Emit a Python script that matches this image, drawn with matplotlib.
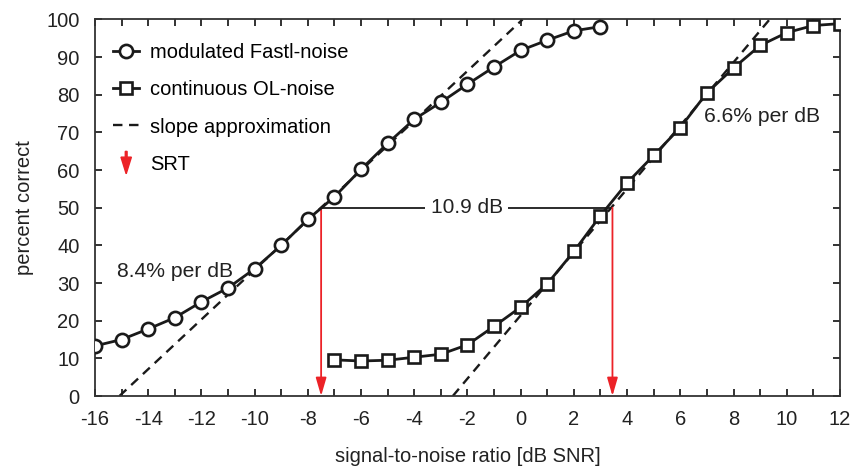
import numpy as np
import matplotlib.pyplot as plt
from matplotlib.patches import FancyArrow
from matplotlib.lines import Line2D
from matplotlib.legend_handler import HandlerPatch

plt.rcParams['font.family'] = ['Liberation Sans', 'DejaVu Sans']
plt.rcParams['font.size'] = 14.5
plt.rcParams['axes.unicode_minus'] = False

# modulated Fastl-noise
snr_mod = np.arange(-16, 4)
pc_mod = [13.3, 15.0, 17.8, 20.8, 25.0, 28.7, 33.8, 40.0, 46.9, 52.9,
          60.2, 67.1, 73.5, 78.0, 82.8, 87.4, 91.8, 94.5, 97.0, 98.1]

# continuous OL-noise
snr_cont = np.arange(-7, 13)
pc_cont = [9.6, 9.3, 9.5, 10.3, 11.1, 13.6, 18.5, 23.6, 29.8, 38.4,
           47.9, 56.6, 63.9, 71.3, 80.5, 87.1, 93.1, 96.5, 98.4, 98.9]

# slope approximations: (zero crossing, slope in % per dB)
slope_mod = (-15.08, 6.6)
slope_cont = (-2.55, 8.4)
srt_mod = -7.5
srt_cont = 3.45
red = '#ec2227'
ink = '#1a1a1a'

fig = plt.figure(figsize=(8.51, 4.72), dpi=100)
ax = fig.add_axes([0.1116, 0.161, 0.8754, 0.7977])

for x0, s in [slope_mod, slope_cont]:
    xs = np.array([x0, x0 + 100 / s])
    ax.plot(xs, s * (xs - x0), '--', color=ink, lw=1.7, dashes=(4, 2.8), zorder=2)

ax.plot(snr_mod, pc_mod, '-o', color=ink, lw=2, ms=9.5, mfc='white', mew=1.9,
        label='modulated Fastl-noise', zorder=4)
ax.plot(snr_cont, pc_cont, '-s', color=ink, lw=2, ms=8, mfc='white', mew=1.9,
        label='continuous OL-noise', zorder=4)

# 10.9 dB bar and SRT arrows
ax.plot([srt_mod, srt_cont], [50, 50], color=ink, lw=1.3, zorder=3)
ax.text((srt_mod + srt_cont) / 2, 50, '10.9 dB', ha='center', va='center',
        fontsize=15, color='#222222', bbox=dict(facecolor='white', edgecolor='none', pad=4), zorder=3)
for x in [srt_mod, srt_cont]:
    ax.annotate('', xy=(x, 0), xytext=(x, 50),
                arrowprops=dict(arrowstyle='-|>,head_length=1.1,head_width=0.32', color=red,
                                lw=1.3, mutation_scale=10, shrinkA=0, shrinkB=0), zorder=3)

ax.text(-15.17, 33.0, '8.4% per dB', ha='left', va='center', fontsize=15.2, color='#222222')
ax.text(6.9, 74.3, '6.6% per dB', ha='left', va='center', fontsize=15.2, color='#222222')

ax.set_xlim(-16, 12)
ax.set_ylim(0, 100)
ax.set_xticks(np.arange(-16, 13, 2))
ax.set_xticks(np.arange(-16, 13, 1), minor=True)
ax.set_yticks(np.arange(0, 101, 10))
ax.tick_params(which='both', direction='in', top=True, right=True, length=5, width=1.3,
               labelsize=14.5, colors='#222222')
ax.tick_params(axis='x', pad=10)
ax.tick_params(axis='y', pad=11)
for sp in ax.spines.values():
    sp.set_linewidth(1.3)
    sp.set_color('#333333')
ax.set_xlabel('signal-to-noise ratio [dB SNR]', fontsize=14.5, color='#222222', labelpad=13)
ax.set_ylabel('percent correct', fontsize=14.5, color='#222222', labelpad=9)


def make_arrow(legend, orig_handle, xdescent, ydescent, width, height, fontsize):
    return FancyArrow(width / 2, height + 3, 0, -height - 6, width=1.3, head_width=7.5,
                      head_length=12, length_includes_head=True, color=red)


srt_handle = FancyArrow(0, 0, 0, -1, color=red)
dash_handle = Line2D([], [], ls='--', color=ink, lw=1.7, dashes=(4, 2.8))
handles, labels = ax.get_legend_handles_labels()
handles += [dash_handle, srt_handle]
labels += ['slope approximation', 'SRT']
ax.legend(handles, labels, loc='upper left', frameon=False, fontsize=14.5,
          handlelength=1.3, handletextpad=0.55, labelspacing=0.9,
          borderaxespad=0.5, bbox_to_anchor=(0.0, 0.985),
          handler_map={FancyArrow: HandlerPatch(patch_func=make_arrow)})

fig.savefig('out.png', dpi=100)
